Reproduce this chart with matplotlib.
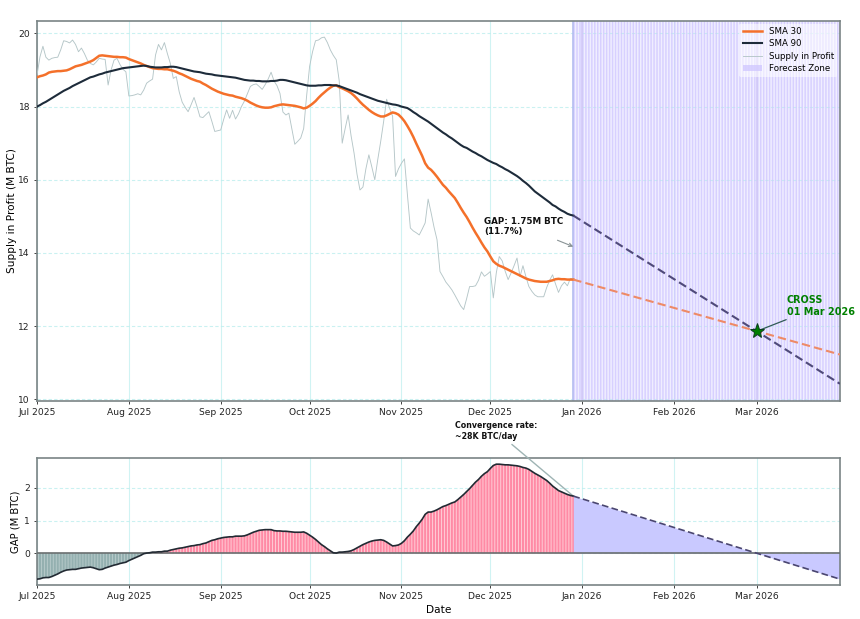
import pandas as pd
import numpy as np
from matplotlib import pyplot as plt
import matplotlib.dates as mdates

# daily values, 1 Jul 2025 .. 29 Dec 2025
sma30 = [18.80,18.83,18.85,18.88,18.93,18.95,18.96,18.97,18.97,18.98,18.99,19.02,19.06,19.10,19.12,19.14,19.17,19.20,19.23,19.27,19.33,19.39,19.40,19.39,19.38,19.37,19.36,19.36,19.35,19.35,19.34,
         19.30,19.27,19.24,19.21,19.18,19.14,19.11,19.08,19.05,19.04,19.03,19.03,19.02,19.02,19.00,18.98,18.95,18.91,18.88,18.84,18.80,18.76,18.73,18.70,18.68,18.63,18.59,18.54,18.49,18.45,18.41,
         18.38,18.35,18.33,18.31,18.30,18.27,18.25,18.23,18.20,18.16,18.11,18.07,18.03,18.00,17.98,17.97,17.97,17.98,18.01,18.03,18.05,18.06,18.05,18.04,18.03,18.02,18.00,17.98,17.95,17.97,
         18.02,18.08,18.15,18.24,18.32,18.39,18.46,18.52,18.57,18.58,18.53,18.50,18.46,18.42,18.37,18.30,18.22,18.13,18.05,17.98,17.91,17.85,17.80,17.76,17.73,17.73,17.76,17.80,17.84,17.82,17.78,
         17.70,17.60,17.47,17.33,17.17,16.99,16.82,16.65,16.45,16.33,16.27,16.18,16.08,15.97,15.86,15.78,15.68,15.59,15.50,15.37,15.23,15.10,14.98,14.84,14.69,14.55,14.42,14.28,14.15,14.04,
         13.90,13.77,13.70,13.65,13.62,13.58,13.54,13.50,13.46,13.42,13.38,13.34,13.30,13.27,13.25,13.23,13.22,13.21,13.21,13.21,13.23,13.25,13.28,13.29,13.28,13.28,13.27,13.27,13.27]
sma90 = [18.00,18.04,18.09,18.13,18.18,18.23,18.28,18.33,18.38,18.43,18.47,18.51,18.56,18.60,18.64,18.68,18.72,18.76,18.80,18.82,18.85,18.88,18.90,18.93,18.95,18.97,18.99,19.01,19.03,19.05,19.06,
         19.07,19.08,19.09,19.10,19.11,19.12,19.11,19.09,19.08,19.07,19.07,19.07,19.08,19.08,19.09,19.09,19.08,19.06,19.04,19.02,19.00,18.98,18.96,18.95,18.94,18.92,18.90,18.89,18.88,18.86,18.85,
         18.84,18.83,18.82,18.81,18.80,18.79,18.77,18.75,18.73,18.72,18.71,18.71,18.70,18.70,18.69,18.69,18.69,18.70,18.70,18.71,18.73,18.73,18.72,18.70,18.68,18.66,18.64,18.62,18.60,18.58,
         18.57,18.57,18.57,18.58,18.58,18.59,18.59,18.59,18.58,18.58,18.56,18.53,18.50,18.47,18.44,18.41,18.38,18.34,18.31,18.28,18.25,18.22,18.19,18.16,18.14,18.12,18.10,18.08,18.06,18.05,18.03,
         18.00,17.98,17.96,17.91,17.85,17.80,17.74,17.69,17.64,17.59,17.53,17.47,17.41,17.35,17.29,17.24,17.18,17.13,17.07,17.01,16.95,16.90,16.87,16.82,16.77,16.73,16.68,16.64,16.59,16.54,
         16.50,16.46,16.43,16.38,16.34,16.29,16.25,16.20,16.15,16.10,16.04,15.97,15.91,15.84,15.76,15.68,15.62,15.56,15.50,15.44,15.38,15.31,15.27,15.21,15.16,15.12,15.07,15.04,15.02]
supply = [18.86,19.36,19.65,19.35,19.27,19.32,19.34,19.35,19.55,19.80,19.78,19.74,19.82,19.70,19.50,19.60,19.45,19.27,19.18,19.14,19.22,19.32,19.30,19.29,18.59,19.00,19.27,19.32,19.15,19.02,18.95,
          18.29,18.30,18.32,18.35,18.32,18.45,18.64,18.70,18.75,19.41,19.70,19.55,19.75,19.45,19.18,18.77,18.82,18.40,18.12,17.98,17.86,18.05,18.25,18.00,17.72,17.70,17.78,17.86,17.60,17.32,17.34,
          17.36,17.65,17.91,17.68,17.90,17.66,17.80,18.00,18.15,18.35,18.55,18.60,18.62,18.55,18.47,18.60,18.75,18.94,18.70,18.57,18.36,17.85,17.77,17.82,17.40,16.97,17.05,17.14,17.40,18.30,
          19.10,19.50,19.80,19.82,19.88,19.90,19.75,19.55,19.40,19.28,18.70,17.00,17.40,17.77,17.20,16.73,16.15,15.72,15.80,16.30,16.68,16.35,16.00,16.55,17.05,17.60,18.20,17.95,17.74,16.09,16.30,
          16.45,16.57,15.60,14.68,14.60,14.55,14.49,14.65,14.82,15.47,15.10,14.70,14.36,13.49,13.35,13.20,13.10,12.99,12.85,12.70,12.55,12.45,12.75,13.08,13.08,13.10,13.25,13.48,13.36,13.42,
          13.49,12.77,13.45,13.90,13.78,13.50,13.27,13.45,13.65,13.86,13.35,13.65,13.35,13.08,12.95,12.85,12.80,12.80,12.80,13.05,13.25,13.40,13.15,12.92,13.10,13.20,13.10,13.30,13.30]

forecast_ends = ['2025-12-29', '2026-03-29']
sma30_forecast = [13.27, 11.22]
sma90_forecast = [15.02, 10.42]
gap_forecast = [1.75, -0.80]
cross_date = '2026-03-01'
cross_value = 11.86

dates = pd.date_range('2025-07-01', periods=len(sma30), freq='D')
gap = np.array(sma90) - np.array(sma30)
fc_dates = pd.to_datetime(forecast_ends)
zone_days = pd.date_range(forecast_ends[0], forecast_ends[1], freq='D')
cross = pd.Timestamp(cross_date)
last = dates[-1]

grid_col = '#bdeeee'
spine_col = '#7a8485'

W, H = 860, 619
fig = plt.figure(figsize=(8.6, 6.19), dpi=100)
ax = fig.add_axes([37 / W, 1 - 401 / H, 803 / W, 380 / H])
ax2 = fig.add_axes([37 / W, 1 - 585 / H, 803 / W, 127 / H])

# top panel
ax.axvspan(zone_days[0], zone_days[-1], color='#f0eeff', lw=0, zorder=0.5)
for i, d in enumerate(zone_days[:-1]):
    ax.axvspan(d, d + pd.Timedelta(hours=12), color='#cfc6ff', alpha=0.75, lw=0, snap=False,
               label='Forecast Zone' if i == 0 else None, zorder=1)
ax.axvline(last, color='#b4bcf0', lw=1.2, zorder=1.5)
ax.axvline(pd.Timestamp('2026-01-01'), color='#d2c8f8', lw=1.2, zorder=1.5)
ax.axvline(cross, color='#d2c8f8', lw=1.2, zorder=1.5)

ax.plot(dates, sma30, color='#f4702a', lw=1.8, label='SMA 30', zorder=4)
ax.plot(dates, sma90, color='#1d2b3a', lw=1.5, label='SMA 90', zorder=4)
ax.plot(dates, supply, color='#b5c6c8', lw=0.65, label='Supply in Profit', zorder=3)
ax.plot(fc_dates, sma30_forecast, color='#ee8a66', lw=1.5, ls=(0, (4, 2)), zorder=4)
ax.plot(fc_dates, sma90_forecast, color='#4f4a7a', lw=1.5, ls=(0, (4, 2)), zorder=4)
ax.plot([cross], [cross_value], marker='*', ms=11, color='green', mec='#0c3d20', mew=0.7, zorder=6)

ax.annotate('GAP: 1.75M BTC\n(11.7%)', xy=(last, 14.17), xytext=(pd.Timestamp('2025-11-29'), 14.45),
            fontsize=6.3, fontweight='bold', color='#111111', va='bottom', linespacing=1.2,
            arrowprops=dict(arrowstyle='->', color='#8a9496', lw=0.8, shrinkA=2, shrinkB=0))
ax.annotate('CROSS\n01 Mar 2026', xy=(cross, cross_value), xytext=(pd.Timestamp('2026-03-11'), 12.25),
            fontsize=6.9, fontweight='bold', color='green', va='bottom', linespacing=1.2,
            arrowprops=dict(arrowstyle='-', color='#2f5a55', lw=0.9, shrinkA=0, shrinkB=2))

ax.set_ylabel('Supply in Profit (M BTC)', fontsize=7.6, labelpad=1)
ax.set_ylim(9.95, 20.34)
ax.set_yticks([10, 12, 14, 16, 18, 20])

handles, labels = ax.get_legend_handles_labels()
order = [labels.index(n) for n in ['SMA 30', 'SMA 90', 'Supply in Profit', 'Forecast Zone']]
ax.legend([handles[i] for i in order], [labels[i] for i in order], loc='upper right', fontsize=6.2,
          framealpha=0.55, edgecolor='none', borderaxespad=0.3, labelspacing=0.4,
          handlelength=2.2, handletextpad=0.8)

# gap panel
ax2.fill_between(dates, gap, 0, where=gap >= 0, color='#ffd2da', lw=0, zorder=1.5)
ax2.fill_between(dates, gap, 0, where=gap <= 0, color='#b9cccc', lw=0, zorder=1.5)
ax2.bar(dates[gap >= 0], gap[gap >= 0], width=0.7, color='#ff8aa5', lw=0, snap=False, zorder=2)
ax2.bar(dates[gap < 0], gap[gap < 0], width=0.7, color='#94b0b0', lw=0, snap=False, zorder=2)
ax2.fill_between(fc_dates, gap_forecast, 0, color='#c9c9ff', lw=0, zorder=2)
ax2.axhline(0, color='#6a6f70', lw=1.2, zorder=3)
ax2.plot(dates, gap, color='#222a33', lw=1.2, zorder=4)
ax2.plot(fc_dates, gap_forecast, color='#4a4670', lw=1.2, ls=(0, (4, 2)), zorder=4)
ax2.annotate('Convergence rate:\n~28K BTC/day', xy=(last, gap[-1]),
             xytext=(pd.Timestamp('2025-11-19'), 3.45), annotation_clip=False,
             fontsize=5.7, fontweight='bold', color='#111111', va='bottom', linespacing=1.2,
             arrowprops=dict(arrowstyle='-', color='#9fb4b4', lw=1.0, shrinkA=1, shrinkB=0))
ax2.set_ylabel('GAP (M BTC)', fontsize=7.2, labelpad=3)
ax2.set_xlabel('Date', fontsize=7.6, labelpad=3)
ax2.set_ylim(-0.98, 2.92)
ax2.set_yticks([0, 1, 2])

for a in (ax, ax2):
    a.set_xlim(pd.Timestamp('2025-07-01'), pd.Timestamp('2026-03-29'))
    a.xaxis.set_major_locator(mdates.MonthLocator())
    a.xaxis.set_major_formatter(mdates.DateFormatter('%b %Y'))
    a.tick_params(labelsize=6.6, length=2.5, width=0.6, pad=2.5, colors='#222222')
    a.grid(True, axis='y', color=grid_col, lw=0.8, ls=(0, (3, 2)), alpha=0.8, zorder=0)
    a.grid(True, axis='x', color=grid_col, lw=0.8, alpha=0.7, zorder=0)
    a.set_axisbelow(True)
    for s in a.spines.values():
        s.set_color(spine_col)
        s.set_linewidth(1.2)

fig.savefig('out.png', dpi=100)
